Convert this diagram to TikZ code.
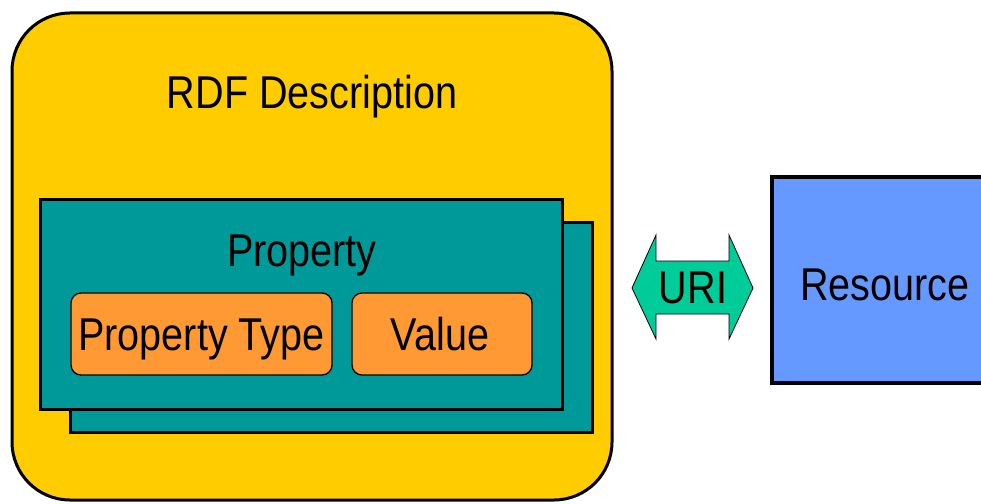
\documentclass[tikz,border=0pt]{standalone}
\usepackage{fontspec}
\setmainfont{Liberation Sans}[FakeStretch=0.86]
\usepackage{xcolor}
\usetikzlibrary{positioning}

\definecolor{descyellow}{HTML}{FFCC00}
\definecolor{propteal}{HTML}{009999}
\definecolor{partorange}{HTML}{FF9933}
\definecolor{resblue}{HTML}{6699FF}
\definecolor{urigreen}{HTML}{00CC99}

\begin{document}
\begin{tikzpicture}[
  x=1pt, y=-1pt,
  box/.style={
    rectangle, draw=black, line width=3pt, inner sep=0pt},
  descbox/.style={
    box, rounded corners=58pt, fill=descyellow,
    minimum width=600pt, minimum height=487pt},
  propbox/.style={
    box, fill=propteal,
    minimum width=522pt, minimum height=210pt},
  partbox/.style={
    rectangle, rounded corners=10pt,
    draw=black, line width=1.3pt, fill=partorange,
    inner sep=0pt, minimum height=82pt},
  resbox/.style={
    box, line width=4pt, fill=resblue,
    minimum width=226pt, minimum height=206pt},
  txt/.style={
    font=\fontsize{46}{52}\selectfont,
    anchor=base, inner sep=0pt}
]
\clip (0,0) rectangle (981,503);

%% Boxes
\node[descbox]              (desc)  at (312,256.5) {};
\node[propbox]              (back)  at (331.5,327) {};
\node[propbox]              (prop)  at (301,304)   {};
\node[partbox, minimum width=261pt] (ptype) at (201.5,334) {};
\node[partbox, minimum width=180pt] (value) at (442,334)   {};
\node[resbox]               (res)   at (885,280)   {};

%% URI arrow
\draw[fill=urigreen, line width=0.8pt]
  (632,288) -- (656,235) -- (656,261) -- (729,261) -- (729,235)
  -- (753,288) -- (729,339) -- (729,314) -- (656,314) -- (656,339) -- cycle;

%% Texts
\node[txt] (desctxt)  at (312,108) {RDF Description};
\node[txt] (proptxt)  at (302,266) {Property};
\node[txt] (ptypetxt) at (201.5,350) {Property Type};
\node[txt] (valuetxt) at (440,350) {Value};
\node[txt] (uritxt)   at (693,303) {URI};
\node[txt] (restxt)   at (885,300) {Resource};

\end{tikzpicture}
\end{document}
